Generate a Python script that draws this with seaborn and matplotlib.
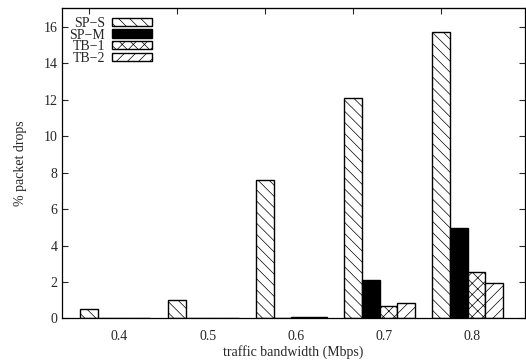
#!/usr/bin/env python3
import pandas as pd
import seaborn as sns
import matplotlib.pyplot as plt
from matplotlib.patches import Patch

bandwidth = ['0.4', '0.5', '0.6', '0.7', '0.8']
schemes = ['SP\u2212S', 'SP\u2212M', 'TB\u22121', 'TB\u22122']
sp_s = [0.5, 1.0, 7.6, 12.1, 15.7]
sp_m = [0.0, 0.0, 0.0, 2.1, 4.95]
tb_1 = [0.0, 0.0, 0.08, 0.7, 2.54]
tb_2 = [0.0, 0.0, 0.07, 0.83, 1.93]

hatches = ['\\\\\\', '', 'xxx', '///']
fills = ['white', 'black', 'white', 'white']


def main(out_file='out.png'):
    rows = []
    for name, vals in zip(schemes, [sp_s, sp_m, tb_1, tb_2]):
        for bw, v in zip(bandwidth, vals):
            rows.append({'bw': bw, 'scheme': name, 'drops': v})
    df = pd.DataFrame(rows)

    sns.set_style('ticks')
    plt.rcParams['font.family'] = ['Liberation Serif', 'DejaVu Serif']
    plt.rcParams['hatch.linewidth'] = 0.5

    fig = plt.figure(figsize=(5.26, 3.6), dpi=100, facecolor='white')
    ax = fig.add_axes([0.1184, 0.1153, 0.8796, 0.8617])

    sns.barplot(data=df, x='bw', y='drops', hue='scheme', order=bandwidth,
                hue_order=schemes, width=0.8, dodge=True, ax=ax, legend=False,
                edgecolor='black', linewidth=1.0)

    # gnuplot-like fills: hatches + one solid series
    for cont, h, fc in zip(ax.containers, hatches, fills):
        for bar in cont:
            bar.set_facecolor(fc)
            bar.set_hatch(h)
            bar.set_edgecolor('black')

    ax.set_xlim(-0.6, 4.65)
    ax.set_ylim(0, 17)
    ax.set_yticks(range(0, 17, 2))
    ax.set_xticks([i + 0.05 for i in range(len(bandwidth))])
    ax.set_xticklabels(bandwidth, fontsize=10)
    ax.tick_params(axis='x', length=0, pad=8)
    ax.tick_params(axis='y', direction='in', length=4, labelsize=10,
                   right=True, width=0.8)

    # mirrored top ticks as in the original
    top = ax.secondary_xaxis('top')
    top.set_xticks([i - 0.3 for i in range(len(bandwidth))])
    top.set_xticklabels([])
    top.tick_params(direction='in', length=4, width=0.8)

    for spine in ax.spines.values():
        spine.set_visible(True)
        spine.set_edgecolor('black')
        spine.set_linewidth(0.9)

    ax.set_xlabel('traffic bandwidth (Mbps)', fontsize=10, labelpad=2)
    ax.set_ylabel('% packet drops', fontsize=10, labelpad=12)

    handles = [Patch(facecolor=fc, edgecolor='black', hatch=h, linewidth=1.0)
               for h, fc in zip(hatches, fills)]
    ax.legend(handles, schemes, loc='upper left', bbox_to_anchor=(0.015, 0.972),
              frameon=False, markerfirst=False, fontsize=10, handlelength=2.9,
              handleheight=0.55, labelspacing=-0.1, borderpad=0,
              handletextpad=0.5, borderaxespad=0)

    plt.savefig(out_file, dpi=100, facecolor='white')


if __name__ == '__main__':
    main()
